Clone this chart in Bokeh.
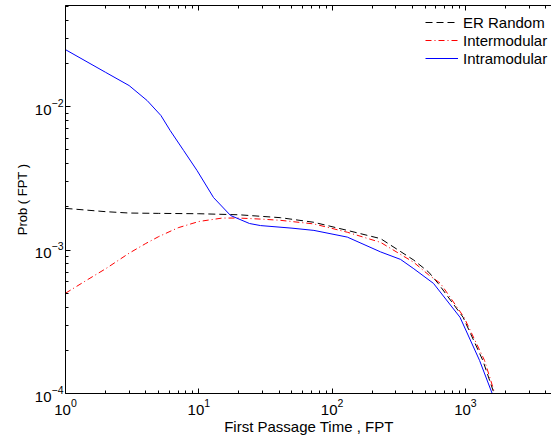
from bokeh.plotting import figure
from bokeh.models import Range1d, FixedTicker, LogAxis, LogTickFormatter, Legend, LegendItem, CustomJSTickFormatter
from bokeh.embed import file_html
from bokeh.resources import INLINE

# ---- data ----
er_x = [1, 2, 3, 5, 10, 20, 41, 73, 130, 231, 410, 531, 624, 960, 1350, 1640]
er_y = [0.00195, 0.00185, 0.00181, 0.0018, 0.00179, 0.00176, 0.00168, 0.00156,
        0.00137, 0.0012, 0.00085, 0.0007, 0.000585, 0.00034, 0.00017, 0.0001]

inter_x = [1, 1.5, 2, 3, 4, 5, 7, 10, 15, 20, 30, 41, 73, 130, 231, 410, 531,
           650, 975, 1390, 1660]
inter_y = [0.0005, 0.00063, 0.00074, 0.00095, 0.00111, 0.00124, 0.00143, 0.00158,
           0.00167, 0.00167, 0.00164, 0.00161, 0.00152, 0.00133, 0.00113, 0.00082,
           0.00067, 0.000585, 0.00034, 0.00017, 0.0001]

intra_x = [1, 2, 3, 4.1, 5.2, 6.1, 7.7, 9.7, 12.9, 17.3, 24, 29, 50, 73, 130, 231,
           326, 410, 576, 910, 1276, 1587]
intra_y = [0.0249, 0.0173, 0.0140, 0.0110, 0.00865, 0.0068, 0.00493, 0.00358,
           0.00232, 0.00174, 0.00153, 0.00148, 0.00142, 0.00137, 0.00123, 0.00097,
           0.00086, 0.00074, 0.000585, 0.00034, 0.00017, 0.0001]

series_labels = ["ER Random", "Intermodular", "Intramodular"]
x_major_ticks = [1, 10, 100, 1000]
y_major_ticks = [1e-4, 1e-3, 1e-2]
x_minor_ticks = [m * 10 ** k for k in range(0, 4) for m in range(2, 10)]
y_minor_ticks = [m * 10.0 ** k for k in range(-4, -1) for m in range(2, 10)]

FONT = "Liberation Sans"

p = figure(width=556, height=438, x_axis_type="log", y_axis_type="log",
           x_range=Range1d(1, 10 ** 3.683), y_range=Range1d(1e-4, 10 ** -1.296),
           output_backend="svg", toolbar_location=None,
           min_border_left=65, min_border_right=0, min_border_top=5, min_border_bottom=45)
p.outline_line_color = None
p.outline_line_alpha = 0
p.xgrid.visible = False
p.ygrid.visible = False
p.background_fill_color = "white"
p.border_fill_color = "white"

xt = FixedTicker(ticks=x_major_ticks, minor_ticks=x_minor_ticks)
yt = FixedTicker(ticks=y_major_ticks, minor_ticks=y_minor_ticks)

def style_axis(ax):
    ax.axis_line_color = "black"
    ax.axis_line_width = 1
    ax.major_tick_in = 5
    ax.major_tick_out = 0
    ax.minor_tick_in = 3
    ax.minor_tick_out = 0
    ax.major_tick_line_color = "black"
    ax.minor_tick_line_color = "black"
    ax.major_label_text_font = FONT
    ax.major_label_text_font_size = "15px"
    ax.major_label_text_color = "black"
    ax.axis_label_text_font = FONT
    ax.axis_label_text_font_style = "normal"
    ax.axis_label_text_color = "black"

xa = p.xaxis[0]
xa.ticker = xt
xa.formatter = LogTickFormatter()
style_axis(xa)
xa.major_label_standoff = 5
xa.axis_label = "First Passage Time ,  FPT"
xa.axis_label_text_font_size = "15px"
xa.axis_label_standoff = 0

ya = p.yaxis[0]
ya.ticker = yt
ya.formatter = LogTickFormatter()
style_axis(ya)
ya.major_label_standoff = 2
ya.axis_label = "Prob ( FPT )"
ya.axis_label_text_font_size = "13px"
ya.axis_label_standoff = 2

top = LogAxis(ticker=FixedTicker(ticks=x_major_ticks, minor_ticks=x_minor_ticks),
              formatter=CustomJSTickFormatter(code="return ' '"))
style_axis(top)
top.major_label_text_font_size = "1px"
top.major_label_text_alpha = 0
top.major_label_standoff = 0
p.add_layout(top, "above")

r1 = p.line(er_x, er_y, line_color="black", line_width=1, line_dash="7 4")
r2 = p.line(inter_x, inter_y, line_color="#ff0000", line_width=1, line_dash="6 3 1 3")
r3 = p.line(intra_x, intra_y, line_color="#0000ff", line_width=1)

legend = Legend(items=[LegendItem(label=series_labels[0], renderers=[r1]),
                       LegendItem(label=series_labels[1], renderers=[r2]),
                       LegendItem(label=series_labels[2], renderers=[r3])],
                location=(360, 326), border_line_color=None, background_fill_alpha=0,
                label_text_font=FONT, label_text_font_size="15px", label_text_color="black",
                glyph_width=33, glyph_height=18, label_height=18, label_standoff=5,
                spacing=0, padding=3, margin=0)
p.add_layout(legend)

open("out.html", "w").write(file_html(p, INLINE))
